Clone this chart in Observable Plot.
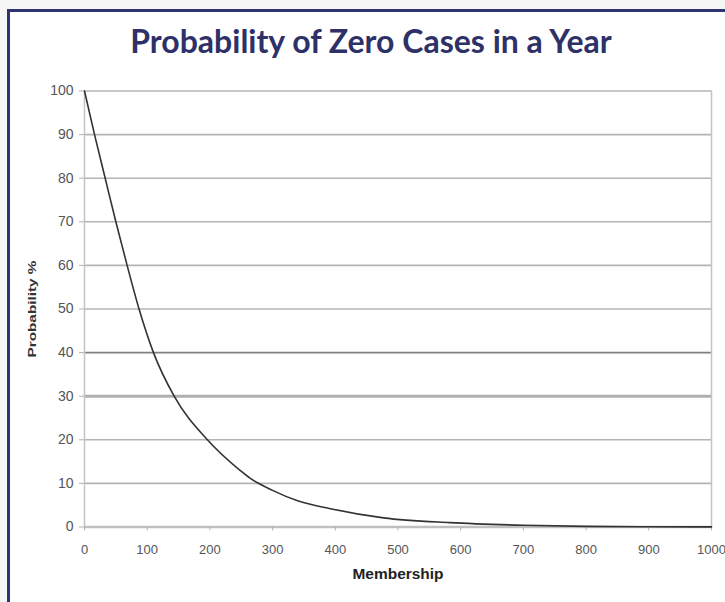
<!DOCTYPE html>
<html><head><meta charset="utf-8">
<script src="https://cdn.jsdelivr.net/npm/d3@7"></script>
<script src="https://cdn.jsdelivr.net/npm/@observablehq/plot@0.6"></script>
<style>
html,body{margin:0;padding:0;width:725px;height:602px;overflow:hidden;background:#f6f6f6;}
#frame{position:absolute;left:7px;top:9px;width:800px;height:700px;border:3px solid #2e3372;background:#fff;}
#title{position:absolute;left:0;top:22px;width:742px;text-align:center;font-family:Lato,sans-serif;font-weight:bold;font-size:32px;line-height:38px;color:#2e3168;}
#chart{position:absolute;left:0;top:80px;}
</style></head><body>
<div id="frame"></div>
<div id="title">Probability of Zero Cases in a Year</div>
<div id="chart"></div>
<script>
// Data
const membership  = [0, 16, 33, 50, 68, 87, 110, 143, 196, 248, 264, 300, 340, 392, 477, 583, 700, 800, 900, 1000];
const probability = [100, 90, 80, 70, 60, 50, 40, 30, 20, 13, 11.2, 8.4, 6.0, 4.2, 2.1, 1.0, 0.4, 0.15, 0.06, 0.02];
const xTicks = [0, 100, 200, 300, 400, 500, 600, 700, 800, 900, 1000];
const yTicks = [0, 10, 20, 30, 40, 50, 60, 70, 80, 90, 100];
const xLabel = "Membership";
const yLabel = "Probability %";

const data = membership.map((m, i) => ({membership: m, probability: probability[i]}));

const darkGrid = [40];
const thickGrid = [30];
const normalGrid = yTicks.filter(t => t > 0 && !darkGrid.includes(t) && !thickGrid.includes(t));

const chart = Plot.plot({
  width: 725, height: 522,
  marginLeft: 84, marginRight: 14, marginTop: 10.5, marginBottom: 75.5,
  style: {background: "transparent", fontFamily: "'Liberation Sans', Arial, sans-serif", fontSize: "13px", color: "#555"},
  x: {domain: [0, 1000], label: null},
  y: {domain: [0, 100], label: null},
  marks: [
    Plot.ruleY(normalGrid, {stroke: "#b4b4b4", strokeWidth: 1.6}),
    Plot.ruleY(darkGrid, {stroke: "#808080", strokeWidth: 1.6}),
    Plot.ruleY(thickGrid, {stroke: "#b0b0b0", strokeWidth: 3}),
    Plot.ruleX([0, 1000], {stroke: "#c4c4c4", strokeWidth: 1.5}),
    Plot.ruleY([0], {stroke: "#c0c0c0", strokeWidth: 2.5}),
    Plot.axisY({ticks: yTicks, tickSize: 5, tickPadding: 6, stroke: "#b0b0b0", fill: "#555", fontSize: 14, label: null}),
    Plot.axisX({ticks: xTicks, tickFormat: d => String(d), tickSize: 4, tickPadding: 14, stroke: "#b0b0b0", fill: "#555", fontSize: 13, label: null}),
    Plot.line(data, {x: "membership", y: "probability", curve: "monotone-x", stroke: "#333", strokeWidth: 1.6}),
    Plot.text([xLabel], {frameAnchor: "bottom", dy: 52, fontWeight: "bold", fontSize: 14, fill: "#222"}),
    Plot.text([yLabel], {frameAnchor: "left", textAnchor: "middle", dx: -52, rotate: -90, fontWeight: "bold", fontSize: 11.5, fill: "#333"})
  ]
});
d3.select(chart).selectAll("text").each(function() {
  const t = this.textContent;
  if (t === xLabel) d3.select(this).attr("textLength", 91).attr("lengthAdjust", "spacingAndGlyphs");
  if (t === yLabel) d3.select(this).attr("textLength", 97).attr("lengthAdjust", "spacingAndGlyphs");
});
document.getElementById("chart").appendChild(chart);
</script>
</body></html>
